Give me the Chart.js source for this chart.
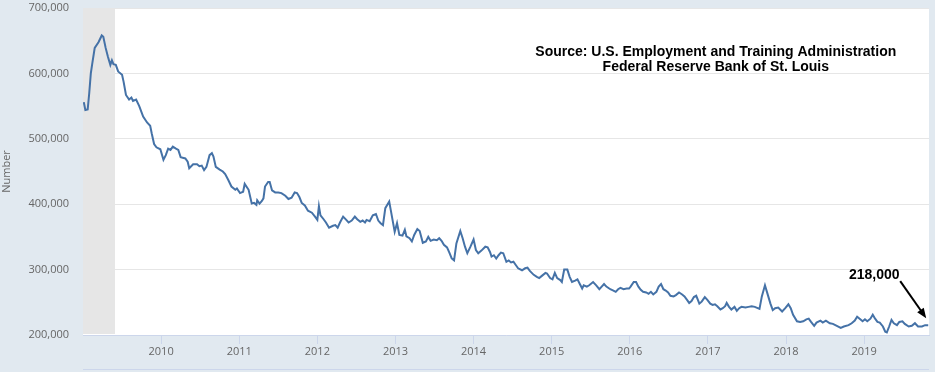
<!DOCTYPE html>
<html>
<head>
<meta charset="utf-8">
<script src="https://cdn.jsdelivr.net/npm/chart.js@4.4.1/dist/chart.umd.min.js"></script>
<style>
  body { margin: 0; background: #e1e9f0; }
  canvas { display: block; }
</style>
</head>
<body>
<canvas id="claimsChart" width="935" height="372"></canvas>
<script>
// Data: week (decimal year) and 4-week average of initial claims, in thousands
const weeks = [
  2009.01, 2009.03, 2009.06, 2009.08, 2009.10, 2009.12, 2009.15, 2009.20, 2009.24, 2009.26,
  2009.29, 2009.32, 2009.35, 2009.37, 2009.39, 2009.42, 2009.45, 2009.50, 2009.52, 2009.55,
  2009.59, 2009.62, 2009.64, 2009.68, 2009.72, 2009.77, 2009.82, 2009.86, 2009.88, 2009.91,
  2009.94, 2009.99,
  2010.03, 2010.06, 2010.09, 2010.12, 2010.15, 2010.19, 2010.22, 2010.25, 2010.31, 2010.34,
  2010.36, 2010.41, 2010.46, 2010.49, 2010.52, 2010.55, 2010.58, 2010.62, 2010.65, 2010.67,
  2010.70, 2010.75, 2010.79, 2010.82, 2010.86, 2010.90, 2010.95, 2010.97,
  2011.01, 2011.05, 2011.07, 2011.12, 2011.16, 2011.19, 2011.22, 2011.23, 2011.26, 2011.29,
  2011.31, 2011.33, 2011.37, 2011.39, 2011.42, 2011.46, 2011.50, 2011.54, 2011.59, 2011.63,
  2011.67, 2011.71, 2011.74, 2011.77, 2011.80, 2011.84, 2011.88, 2011.93, 2011.97,
  2012.00, 2012.02, 2012.04, 2012.08, 2012.11, 2012.15, 2012.20, 2012.23, 2012.26, 2012.29,
  2012.33, 2012.37, 2012.40, 2012.44, 2012.48, 2012.51, 2012.55, 2012.58, 2012.61, 2012.63,
  2012.67, 2012.71, 2012.75, 2012.78, 2012.81, 2012.84, 2012.87, 2012.92, 2012.94, 2012.97,
  2012.99,
  2013.02, 2013.05, 2013.09, 2013.12, 2013.14, 2013.18, 2013.21, 2013.24, 2013.28, 2013.31,
  2013.35, 2013.39, 2013.42, 2013.45, 2013.49, 2013.53, 2013.56, 2013.59, 2013.62, 2013.66,
  2013.69, 2013.72, 2013.75, 2013.78, 2013.83, 2013.86, 2013.89, 2013.92, 2013.96,
  2014.00, 2014.03, 2014.06, 2014.10, 2014.15, 2014.18, 2014.21, 2014.23, 2014.26, 2014.29,
  2014.32, 2014.35, 2014.38, 2014.42, 2014.45, 2014.48, 2014.51, 2014.54, 2014.57, 2014.62,
  2014.66, 2014.69, 2014.72, 2014.77, 2014.81, 2014.84, 2014.87, 2014.92, 2014.94, 2014.98,
  2015.01, 2015.04, 2015.07, 2015.11, 2015.13, 2015.16, 2015.20, 2015.23, 2015.26, 2015.30,
  2015.33, 2015.36, 2015.39, 2015.41, 2015.45, 2015.48, 2015.53, 2015.57, 2015.61, 2015.64,
  2015.67, 2015.70, 2015.75, 2015.79, 2015.82, 2015.85, 2015.88, 2015.92, 2015.96, 2015.99,
  2016.01, 2016.05, 2016.08, 2016.11, 2016.14, 2016.17, 2016.21, 2016.24, 2016.27, 2016.30,
  2016.34, 2016.37, 2016.40, 2016.43, 2016.46, 2016.49, 2016.52, 2016.56, 2016.59, 2016.63,
  2016.67, 2016.70, 2016.73, 2016.76, 2016.79, 2016.82, 2016.85, 2016.87, 2016.89, 2016.92,
  2016.96, 2016.99,
  2017.03, 2017.06, 2017.09, 2017.12, 2017.16, 2017.19, 2017.22, 2017.24, 2017.27, 2017.30,
  2017.34, 2017.37, 2017.40, 2017.43, 2017.48, 2017.52, 2017.56, 2017.60, 2017.66, 2017.69,
  2017.73, 2017.76, 2017.80, 2017.83, 2017.86, 2017.90, 2017.95, 2017.99,
  2018.03, 2018.06, 2018.09, 2018.14, 2018.18, 2018.22, 2018.26, 2018.29, 2018.32, 2018.36,
  2018.39, 2018.44, 2018.47, 2018.51, 2018.56, 2018.60, 2018.65, 2018.70, 2018.74, 2018.80,
  2018.84, 2018.88, 2018.91, 2018.95, 2018.98,
  2019.01, 2019.04, 2019.08, 2019.11, 2019.14, 2019.17, 2019.20, 2019.24, 2019.27, 2019.29,
  2019.32, 2019.35, 2019.38, 2019.42, 2019.45, 2019.49, 2019.52, 2019.57, 2019.61, 2019.65,
  2019.69, 2019.74, 2019.78, 2019.82
];
const claimsK = [
  556, 544, 545, 570, 600, 616, 639, 648, 658, 656,
  639, 625, 613, 620, 614, 613, 603, 598, 587, 567,
  560, 563, 558, 560, 550, 534, 525, 520, 508, 492,
  487, 484,
  468, 475, 485, 483, 488, 485, 483, 472, 470, 465,
  455, 461, 461, 458, 459, 452, 457, 475, 478, 473,
  457, 453, 450, 446, 437, 427, 422, 424,
  417, 419, 431, 422, 401, 402, 399, 406, 401, 405,
  409, 427, 434, 434, 421, 418, 418, 417, 413, 408,
  410, 418, 417, 411, 402, 398, 390, 387, 381,
  376, 397, 383, 377, 372, 364, 367, 368, 364, 372,
  381, 376, 372, 375, 381, 377, 373, 375, 372, 376,
  374, 383, 385, 375, 371, 368, 394, 404, 391, 371,
  358,
  371, 353, 352, 361, 351, 348, 343, 353, 362, 359,
  341, 343, 350, 344, 346, 345, 348, 344, 338, 334,
  326, 317, 314, 340, 359, 348, 335, 325, 335,
  346, 330, 325, 329, 335, 334, 327, 320, 322, 317,
  322, 326, 325, 312, 314, 311, 312, 307, 302, 299,
  302, 303, 298, 292, 289, 287, 290, 295, 294, 287,
  285, 295, 287, 284, 281, 300, 300, 289, 281, 283,
  285, 278, 271, 276, 274, 276, 281, 276, 270, 274,
  278, 274, 270, 268, 266, 270, 272, 270, 271, 271,
  274, 281, 281, 274, 269, 266, 265, 263, 266, 262,
  266, 274, 278, 270, 268, 265, 260, 259, 261, 265,
  262, 259, 254, 249, 252, 258, 260, 254, 248, 251,
  258, 254,
  248, 246, 247, 244, 239, 241, 244, 249, 243, 239,
  243, 237, 241, 243, 242, 243, 244, 243, 240, 259,
  276, 264, 248, 238, 241, 242, 236, 241,
  247, 241, 231, 221, 220, 221, 224, 225, 220, 214,
  219, 222, 219, 222, 218, 217, 214, 211, 213, 215,
  218, 222, 228, 224, 221,
  224, 221, 225, 231, 225, 220, 219, 213, 205, 204,
  213, 223, 218, 215, 220, 221, 217, 213, 214, 218,
  213, 213, 215, 215
];
const yearTicks = [2010, 2011, 2012, 2013, 2014, 2015, 2016, 2017, 2018, 2019];
const recession = [2009.0, 2009.41];
const xRange = [2009.0, 2019.83];
const yRange = [200000, 700000];
const sourceLines = ['Source: U.S. Employment and Training Administration', 'Federal Reserve Bank of St. Louis'];
const lastLabel = '218,000';

const points = weeks.map((w, i) => ({ x: w, y: claimsK[i] * 1000 }));

// Background, recession band and the notes on top
const decorations = {
  id: 'decorations',
  beforeDraw(chart) {
    const { ctx, chartArea: a } = chart;
    ctx.save();
    ctx.fillStyle = '#e1e9f0';
    ctx.fillRect(0, 0, chart.width, chart.height);
    ctx.fillStyle = '#ffffff';
    ctx.fillRect(a.left, a.top, a.right - a.left, a.bottom - a.top);
    ctx.restore();
  },
  beforeDatasetsDraw(chart) {
    const { ctx, chartArea: a, scales: { x } } = chart;
    const x0 = x.getPixelForValue(recession[0]);
    const x1 = x.getPixelForValue(recession[1]);
    ctx.save();
    ctx.fillStyle = '#e6e6e6';
    ctx.fillRect(x0, a.top, x1 - x0, a.bottom - a.top - 1);
    ctx.restore();
  },
  afterDraw(chart) {
    const { ctx, chartArea: a, scales: { x, y } } = chart;
    ctx.save();
    // navigator edge at the bottom
    ctx.strokeStyle = '#ccd6eb';
    ctx.lineWidth = 1;
    ctx.beginPath();
    ctx.moveTo(a.left, chart.height - 2.5);
    ctx.lineTo(a.right, chart.height - 2.5);
    ctx.stroke();

    // source note
    ctx.fillStyle = '#000';
    ctx.font = 'bold 14px "Liberation Sans", Arial, sans-serif';
    ctx.textAlign = 'center';
    ctx.textBaseline = 'middle';
    const cx = a.left + (a.right - a.left) * 0.748;
    ctx.fillText(sourceLines[0], cx, a.top + 44);
    ctx.fillText(sourceLines[1], cx, a.top + 59);

    // arrow to the latest value
    const last = points[points.length - 1];
    const tipX = x.getPixelForValue(last.x) - 2;
    const tipY = y.getPixelForValue(last.y) - 7;
    const startX = tipX - 26, startY = tipY - 37;
    const ang = Math.atan2(tipY - startY, tipX - startX);
    ctx.strokeStyle = '#000';
    ctx.lineWidth = 2;
    ctx.beginPath();
    ctx.moveTo(startX, startY);
    ctx.lineTo(tipX - 6 * Math.cos(ang), tipY - 6 * Math.sin(ang));
    ctx.stroke();
    ctx.beginPath();
    ctx.moveTo(tipX, tipY);
    ctx.lineTo(tipX - 10 * Math.cos(ang) + 4 * Math.sin(ang), tipY - 10 * Math.sin(ang) - 4 * Math.cos(ang));
    ctx.lineTo(tipX - 10 * Math.cos(ang) - 4 * Math.sin(ang), tipY - 10 * Math.sin(ang) + 4 * Math.cos(ang));
    ctx.closePath();
    ctx.fill();
    ctx.fillText(lastLabel, tipX - 52, tipY - 43);
    ctx.restore();
  }
};

const ctx = document.getElementById('claimsChart').getContext('2d');
new Chart(ctx, {
  type: 'line',
  data: {
    datasets: [{
      label: 'Initial Claims, 4-Week Moving Average',
      data: points,
      borderColor: '#4572a7',
      borderWidth: 2,
      pointRadius: 0,
      tension: 0,
      fill: false,
    }],
  },
  options: {
    responsive: false,
    animation: false,
    layout: { padding: { top: 8, right: 6, bottom: 0, left: 0 } },
    plugins: {
      legend: { display: false },
      tooltip: { enabled: false },
    },
    scales: {
      x: {
        type: 'linear',
        min: xRange[0],
        max: xRange[1],
        afterBuildTicks(scale) {
          scale.ticks = yearTicks.map(v => ({ value: v }));
        },
        afterFit(scale) {
          scale.height = 37;
          scale.paddingLeft = 0;
          scale.paddingRight = 0;
        },
        ticks: {
          autoSkip: false,
          maxRotation: 0,
          padding: 1,
          color: '#666',
          font: { family: '"Open Sans", sans-serif', size: 11 },
          callback: v => String(v),
        },
        grid: {
          drawOnChartArea: false,
          drawTicks: true,
          tickLength: 9,
          color: '#ccd6eb',
        },
        border: { display: true, color: '#ccd6eb' },
      },
      y: {
        min: yRange[0],
        max: yRange[1],
        afterFit(scale) {
          scale.width = 83;
          scale.paddingTop = 0;
          scale.paddingBottom = 0;
        },
        ticks: {
          stepSize: 100000,
          padding: 14,
          color: '#666',
          font: { family: '"Open Sans", sans-serif', size: 11 },
          callback: v => v.toLocaleString('en-US'),
        },
        grid: { color: '#e6e6e6', drawTicks: false },
        border: { display: false },
        title: {
          display: true,
          text: 'Number',
          color: '#666',
          padding: 0,
          font: { family: '"Open Sans", sans-serif', size: 11 },
        },
      },
    },
  },
  plugins: [decorations],
});
</script>
</body>
</html>
